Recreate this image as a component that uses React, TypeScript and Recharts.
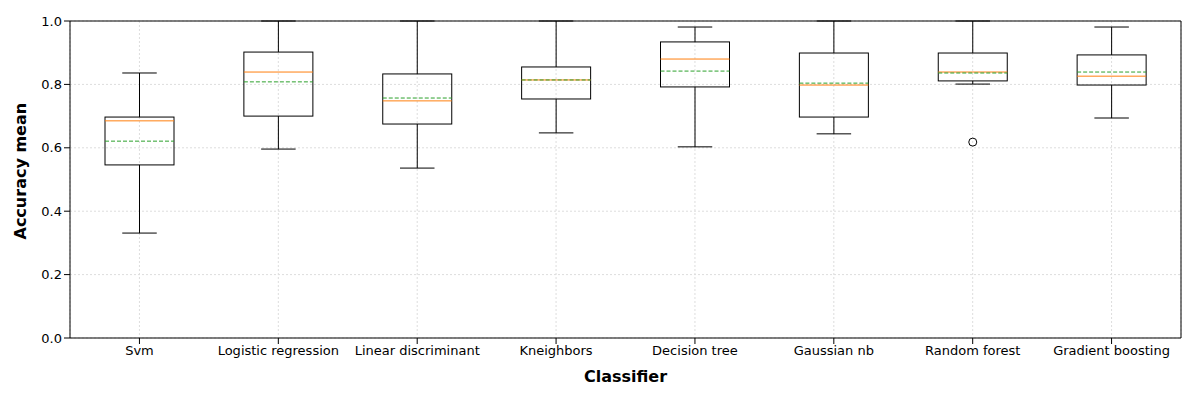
import { ComposedChart, Bar, XAxis, YAxis, CartesianGrid } from 'recharts';

const classifiers = ['Svm', 'Logistic regression', 'Linear discriminant', 'Kneighbors', 'Decision tree', 'Gaussian nb', 'Random forest', 'Gradient boosting'];
const whiskerLow = [0.331, 0.596, 0.536, 0.647, 0.603, 0.644, 0.801, 0.694];
const q1 = [0.546, 0.700, 0.675, 0.754, 0.792, 0.697, 0.811, 0.798];
const medians = [0.685, 0.839, 0.748, 0.814, 0.880, 0.798, 0.839, 0.826];
const means = [0.621, 0.808, 0.757, 0.814, 0.842, 0.804, 0.836, 0.839];
const q3 = [0.697, 0.902, 0.833, 0.855, 0.934, 0.899, 0.899, 0.893];
const whiskerHigh = [0.836, 1.0, 1.0, 1.0, 0.981, 1.0, 1.0, 0.981];
const outliers: number[][] = [[], [], [], [], [], [], [0.618], []];
const yTicks = [0, 0.2, 0.4, 0.6, 0.8, 1.0];

const data = classifiers.map((name, i) => ({
  name,
  range: [Math.min(whiskerLow[i], ...outliers[i]), whiskerHigh[i]],
  lo: whiskerLow[i], q1: q1[i], med: medians[i], mean: means[i], q3: q3[i], hi: whiskerHigh[i],
  out: outliers[i],
}));

function BoxShape(props: any) {
  const { x, y, width, height, payload } = props;
  const [vMin, vMax] = payload.range;
  const py = (v: number) => y + ((vMax - v) / (vMax - vMin)) * height;
  const cx = x + width / 2;
  const cap = width / 4;
  return (
    <g>
      <line x1={cx} x2={cx} y1={py(payload.hi)} y2={py(payload.q3)} stroke="#000" />
      <line x1={cx} x2={cx} y1={py(payload.q1)} y2={py(payload.lo)} stroke="#000" />
      <line x1={cx - cap} x2={cx + cap} y1={py(payload.hi)} y2={py(payload.hi)} stroke="#000" />
      <line x1={cx - cap} x2={cx + cap} y1={py(payload.lo)} y2={py(payload.lo)} stroke="#000" />
      <rect x={x} y={py(payload.q3)} width={width} height={py(payload.q1) - py(payload.q3)} fill="none" stroke="#000" />
      <line x1={x} x2={x + width} y1={py(payload.med)} y2={py(payload.med)} stroke="#ff7f0e" />
      <line x1={x} x2={x + width} y1={py(payload.mean)} y2={py(payload.mean)} stroke="#2ca02c" strokeDasharray="4 2" />
      {payload.out.map((o: number, k: number) => (
        <circle key={k} cx={cx} cy={py(o)} r={4} fill="none" stroke="#000" />
      ))}
    </g>
  );
}

const font = 'DejaVu Sans, sans-serif';

export default function App() {
  return (
    <div style={{ position: 'absolute', left: 0, top: 0, fontFamily: font }}>
      <ComposedChart width={1200} height={400} data={data} margin={{ top: 20, right: 18, left: 0, bottom: 0 }}>
        <CartesianGrid stroke="#dddddd" strokeDasharray="2 2" />
        <XAxis dataKey="name" stroke="#000" tick={{ fill: '#000', fontSize: 13, fontFamily: font }} height={62}
          label={{ value: 'Classifier', position: 'insideBottom', offset: 18, fill: '#000', fontSize: 16, fontWeight: 'bold', fontFamily: font }} />
        <XAxis xAxisId="top" orientation="top" dataKey="name" stroke="#000" tick={false} tickLine={false} height={1} />
        <YAxis domain={[0, 1]} ticks={yTicks} stroke="#000" width={70} tickFormatter={(v) => v.toFixed(1)}
          tick={{ fill: '#000', fontSize: 13, fontFamily: font }}
          label={{ value: 'Accuracy mean', angle: -90, position: 'insideLeft', offset: 20, dy: 60, fill: '#000', fontSize: 16, fontWeight: 'bold', fontFamily: font }} />
        <YAxis yAxisId="right" orientation="right" stroke="#000" tick={false} tickLine={false} width={1} />
        <Bar dataKey="range" barSize={69} shape={<BoxShape />} isAnimationActive={false} />
      </ComposedChart>
    </div>
  );
}
